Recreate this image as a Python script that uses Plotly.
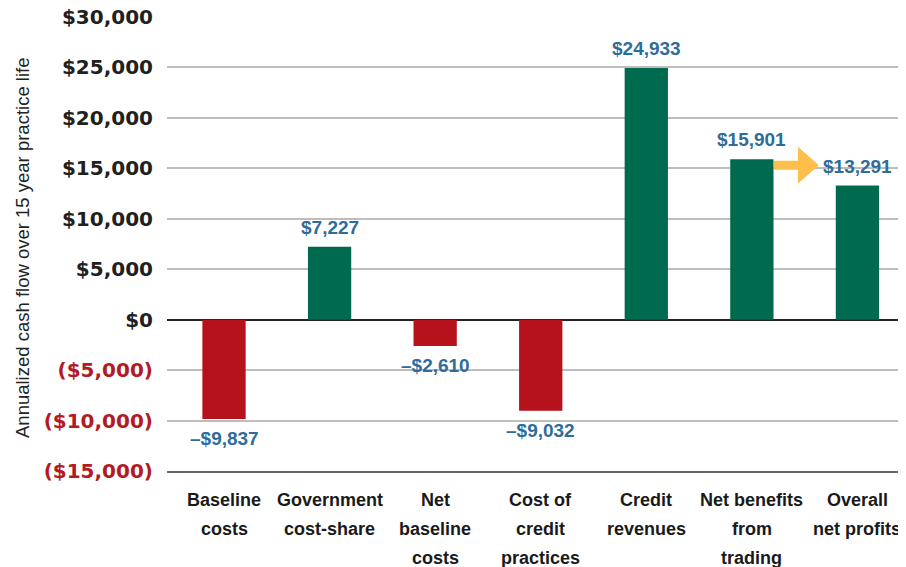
import plotly.graph_objects as go

categories = [
    "Baseline<br>costs",
    "Government<br>cost-share",
    "Net<br>baseline<br>costs",
    "Cost of<br>credit<br>practices",
    "Credit<br>revenues",
    "Net benefits<br>from<br>trading",
    "Overall<br>net profits",
]
values = [-9837, 7227, -2610, -9032, 24933, 15901, 13291]
y_ticks = [-15000, -10000, -5000, 0, 5000, 10000, 15000, 20000, 25000, 30000]

RED = "#b5121b"
GREEN = "#006a4e"
BLUE = "#2f6c9a"
TICK_RED = "#b31b24"
ARROW = "#fdbf4a"

xs = list(range(len(categories)))


def tick_label(v):
    if v < 0:
        return f'<span style="color:{TICK_RED}">(${abs(v):,})</span>'
    return f"${v:,}"


def data_label(v):
    return f"\u2013${abs(v):,}" if v < 0 else f"${v:,}"


fig = go.Figure()
fig.add_trace(go.Bar(
    x=xs, y=values,
    marker=dict(color=[RED if v < 0 else GREEN for v in values], line=dict(width=0)),
    width=0.41,
    hoverinfo="skip",
))

annotations = []
for x, v in zip(xs, values):
    annotations.append(dict(
        x=x, y=v, xref="x", yref="y",
        text=data_label(v), showarrow=False,
        yanchor="bottom" if v >= 0 else "top",
        yshift=7 if v >= 0 else -7,
        font=dict(family="Liberation Sans, Arial, sans-serif", size=19, color=BLUE, weight="bold"),
    ))

# category labels, one line each, with the reference's loose line spacing
LINE_GAP = 29
for x, label in zip(xs, categories):
    for k, line in enumerate(label.split("<br>")):
        annotations.append(dict(
            x=x, y=0, xref="x", yref="paper",
            text=line, showarrow=False,
            xanchor="center", yanchor="middle",
            yshift=-(LINE_GAP + LINE_GAP * k),
            font=dict(family="Liberation Sans Narrow, Arial Narrow, sans-serif", size=18,
                      color="#1a1a1a", weight="bold"),
        ))

annotations.append(dict(
    text="Annualized cash flow over 15 year practice life",
    xref="paper", yref="paper", x=0, y=0.5,
    xshift=-145, yshift=-4, xanchor="center", yanchor="middle",
    textangle=-90, showarrow=False,
    font=dict(family="Liberation Sans Narrow, Arial Narrow, sans-serif", size=18.5, color="#222222"),
))

# arrow from "Net benefits" bar toward "Overall net profits" bar
arrow_idx = 5
fig.add_shape(
    type="path", xref="x", yref="y",
    xsizemode="pixel", ysizemode="pixel",
    xanchor=xs[arrow_idx], yanchor=values[arrow_idx],
    path="M 22,-1.5 L 46,-1.5 L 46,12.5 L 67,-6 L 46,-24.5 L 46,-10.5 L 22,-10.5 Z",
    fillcolor=ARROW, line=dict(width=0),
    layer="above",
)

# page body has an 8px margin, so the figure is drawn 8px in from the window edge
fig.update_layout(
    width=906, height=559,
    margin=dict(l=159, r=8, t=9, b=96, autoexpand=False),
    plot_bgcolor="white", paper_bgcolor="white",
    showlegend=False,
    annotations=annotations,
    xaxis=dict(
        range=[-0.54, 6.46], automargin=False,
        tickvals=xs, showticklabels=False,
        showgrid=False, zeroline=False,
        showline=True, linecolor="#666666", linewidth=2,
        ticks="",
    ),
    yaxis=dict(
        range=[-15000, 30000], automargin=False,
        tickvals=y_ticks, ticktext=[tick_label(v) for v in y_ticks], ticklabeloverflow="allow",
        showgrid=True, gridcolor="#bdbdbd", gridwidth=1.5,
        zeroline=True, zerolinecolor="#222222", zerolinewidth=2,
        showline=False, ticks="", ticklabelstandoff=13,
        tickfont=dict(family="DejaVu Sans, sans-serif", size=20, color="#231f20", weight="bold"),
    ),
)

fig.write_html("out.html")
